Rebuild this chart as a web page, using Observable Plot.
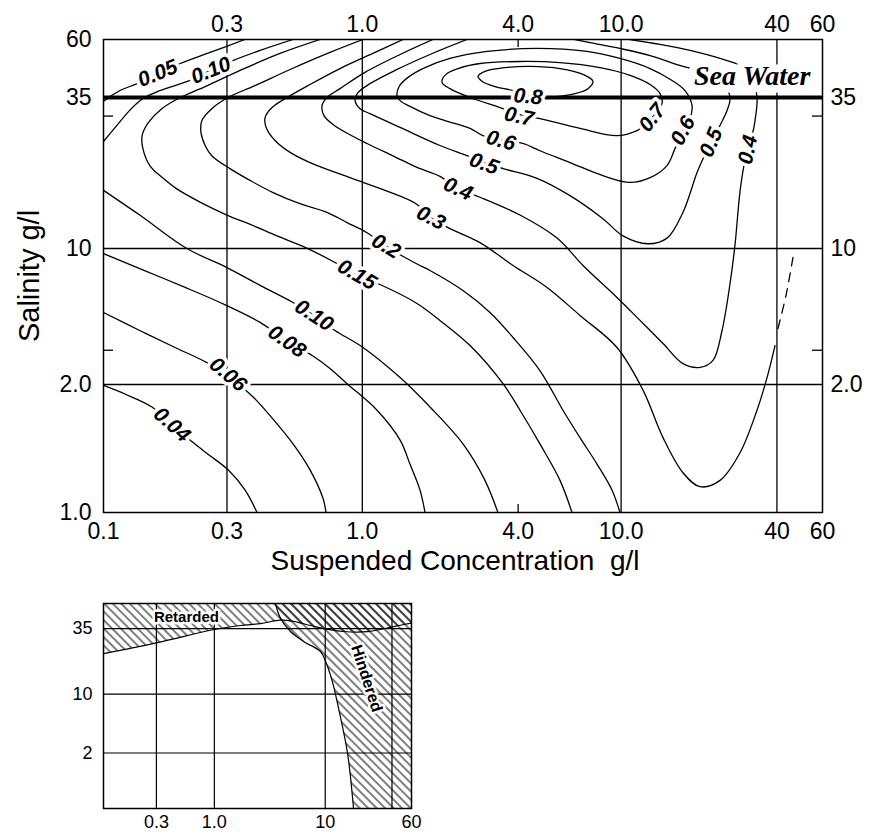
<!DOCTYPE html>
<html><head><meta charset="utf-8">
<script src="https://cdn.jsdelivr.net/npm/d3@7"></script>
<script src="https://cdn.jsdelivr.net/npm/@observablehq/plot@0.6"></script>
<style>body{margin:0;background:#fff;} #chart svg{display:block;}</style>
</head><body><div id="chart"></div>
<script>
// ---------- axes / ticks ----------
const yBreaks = [1, 2, 10, 35, 60];
const xDomain = [0.1, 60];
const xTicksBottom = [0.1, 0.3, 1, 4, 10, 40, 60];
const xTickLabelsBottom = ["0.1", "0.3", "1.0", "4.0", "10.0", "40", "60"];
const xTicksTop = [0.3, 1, 4, 10, 40, 60];
const xTickLabelsTop = ["0.3", "1.0", "4.0", "10.0", "40", "60"];
const yTicksLeft = [1, 2, 10, 35, 60];
const yTickLabelsLeft = ["1.0", "2.0", "10", "35", "60"];
const yTicksRight = [2, 10, 35];
const yTickLabelsRight = ["2.0", "10", "35"];
const xGrid = [0.3, 1, 10, 40];
const yGrid = [2, 10];
const seaWater = [35];
const xMinor = [4];
const yMinor = [3, 30];
const xTitle = "Suspended Concentration\u00a0 g/l";
const yTitle = "Salinity g/l";
const seaLabel = {text: "Sea Water", x: 32.1, y: 42.6};

// ---------- contours (concentration g/l, salinity g/l) ----------
const c004 = [[0.1,1.99],[0.121,1.9],[0.154,1.77],[0.184,1.61],[0.222,1.46],[0.258,1.36],[0.303,1.26],[0.352,1.13],[0.392,1.0]];
const c006 = [[0.1,4.69],[0.138,3.79],[0.189,3.10],[0.251,2.59],[0.303,2.20],[0.375,1.88],[0.44,1.69],[0.54,1.45],[0.628,1.26],[0.705,1.08],[0.724,1.0]];
const c008 = [[0.1,9.42],[0.138,7.89],[0.198,6.46],[0.282,5.28],[0.403,4.17],[0.512,3.33],[0.64,2.82],[0.75,2.42],[0.873,2.02],[1.14,1.74],[1.40,1.48],[1.528,1.30],[1.67,1.13],[1.747,1.0]];
const c010low = [[0.1,16.2],[0.138,13.2],[0.21,10.0],[0.30,7.98],[0.403,6.46],[0.54,5.28],[0.651,4.53],[0.784,3.79],[1.006,3.10],[1.40,2.17],[1.826,1.77],[2.449,1.45],[2.978,1.19],[3.342,1.0]];
const c010up = [[0.1,24.3],[0.111,27.3],[0.126,31.4],[0.142,34.7],[0.165,37.3],[0.216,41.0],[0.26,45.0],[0.316,49.3],[0.403,54.2],[0.54,60]];
const c005 = [[0.1,33.9],[0.106,35.3],[0.118,37.7],[0.135,39.8],[0.162,43.8],[0.198,48.0],[0.258,53.2],[0.352,60]];
const c015 = [[0.687,60],[0.481,52.7],[0.337,45.0],[0.247,38.7],[0.198,35],[0.168,31.9],[0.149,28.4],[0.141,25.5],[0.142,22.9],[0.151,19.9],[0.170,17.9],[0.192,16.4],[0.236,14.7],[0.30,13.2],[0.378,12.1],[0.468,11.1],[0.601,10.1],[0.784,8.47],[0.954,7.26],[1.17,6.53],[1.626,5.22],[1.995,4.27],[2.608,3.17],[3.496,2.02],[4.067,1.74],[4.856,1.45],[5.806,1.19],[6.46,1.0]];
const c02 = [[1.006,60],[0.75,53.2],[0.526,45.4],[0.385,39.1],[0.303,35],[0.262,31.9],[0.240,28.9],[0.238,26.2],[0.247,23.5],[0.262,21.6],[0.308,19.4],[0.368,17.6],[0.452,15.9],[0.574,14.5],[0.73,13.5],[0.873,12.4],[1.043,11.4],[1.235,10.2],[1.462,8.99],[1.67,8.18],[1.826,7.71],[2.449,6.08],[3.114,4.69],[3.823,3.49],[4.856,2.36],[5.96,1.74],[6.935,1.50],[8.07,1.30],[9.218,1.13],[9.902,1.0]];
const c03 = [[1.437,60],[1.12,53.2],[0.82,45.8],[0.628,39.5],[0.512,35],[0.448,32.2],[0.421,29.6],[0.425,27.3],[0.46,24.5],[0.526,22.2],[0.628,20.4],[0.896,18.0],[1.224,16.2],[1.612,14.5],[1.843,12.9],[2.181,11.8],[2.849,10.5],[3.823,8.18],[5.173,6.31],[6.935,4.53],[9.64,3.10],[12.15,1.94],[14.52,1.50],[17.34,1.24],[20.18,1.15],[24.12,1.19],[28.77,1.38],[33.5,1.74],[36.63,2.17],[39.33,3.17]];
const c03dash = [[40.36,3.88],[43.35,5.73],[46.14,8.99]];
const c04 = [[1.875,60],[1.40,52.2],[1.024,44.2],[0.82,38.0],[0.73,35],[0.699,32.7],[0.711,30.1],[0.77,28.0],[0.896,25.7],[1.043,23.9],[1.337,21.4],[1.626,19.6],[1.995,18.2],[2.343,16.4],[2.849,15.3],[4.067,13.2],[5.656,10.9],[7.124,8.18],[9.64,5.60],[11.83,4.27],[14.52,3.25],[17.34,2.56],[20.18,2.45],[22.65,2.66],[24.55,3.79],[26.36,6.61],[27.54,10.3],[28.77,15.9],[29.83,19.9],[30.9,22.9],[32.06,25.5],[32.92,28.9],[33.5,35],[32.06,41.8],[28.77,47.1],[24.12,50.3],[18.46,54.2],[14.14,57.3],[10.83,60]];
const c05 = [[2.539,60],[1.826,52.2],[1.337,45.0],[1.071,39.8],[0.962,36.6],[0.938,34.1],[0.98,31.9],[1.071,30.6],[1.40,27.3],[1.995,23.5],[2.539,21.6],[2.952,20.4],[3.496,19.4],[4.733,17.9],[6.345,15.5],[8.508,12.8],[10.17,11.1],[12.70,10.4],[15.04,10.9],[17.34,13.5],[19.65,18.8],[20.55,20.7],[22.26,24.1],[24.12,27.8],[25.66,31.4],[26.36,35],[24.55,40.3],[21.09,44.2],[17.34,46.7],[12.94,51.7],[9.902,55.2],[7.58,58.3],[6.633,60]];
const c06 = [[1.362,35.6],[1.386,38.7],[1.502,42.2],[1.747,46.2],[2.181,50.3],[3.031,53.7],[4.733,55.2],[7.38,53.7],[9.902,50.3],[12.94,45.8],[15.73,41.0],[17.66,37.3],[18.8,32.7],[18.46,29.4],[17.34,26.6],[16.15,22.9],[15.04,19.9],[12.94,18.0],[10.83,17.3],[8.508,18.3],[6.345,20.4],[4.856,22.5],[4.175,23.9],[3.434,24.7],[2.926,25.5],[2.608,27.1],[2.087,28.9],[1.826,30.1],[1.528,32.5],[1.399,34.1]];
const c07 = [[2.032,40.3],[2.106,43.4],[2.343,45.8],[2.849,48.0],[4.067,48.9],[5.806,48.4],[8.283,46.2],[10.83,43.0],[12.94,39.5],[14.14,36.3],[14.39,33.3],[13.17,29.6],[12.37,27.8],[11.52,26.6],[9.64,25.5],[6.935,27.1],[4.856,29.4],[4.031,30.4],[3.405,32.2],[2.608,35],[2.181,38.0]];
const c08 = [[3.823,37.3],[3.257,38.7],[2.90,40.7],[2.80,42.6],[2.978,44.6],[3.56,46.2],[4.444,46.7],[5.806,45.8],[7.124,43.4],[7.785,40.7],[7.449,38.0],[6.633,36.3],[5.556,35.3],[4.368,35.3]];

// ---------- contour labels ----------
const labelText  = ["0.04","0.06","0.08","0.10","0.15","0.2","0.3","0.4","0.5","0.6","0.7","0.8","0.7","0.6","0.5","0.4","0.05","0.10"];
const labelX     = [0.184,0.303,0.512,0.651,0.954,1.235,1.843,2.343,2.952,3.434,4.031,4.368,13.17,17.34,22.26,30.9,0.162,0.26];
const labelY     = [1.61,2.25,3.33,4.53,7.35,10.2,12.9,16.4,20.2,24.5,29.9,35.3,29.6,26.6,24.1,22.7,43.8,45.0];
const labelAngle = [42,40,35,33,30,30,27,24,20,16,12,5,-52,-62,-68,-78,-22,-22];

// ---------- inset ----------
const insetXTicks = [0.3, 1, 10, 60];
const insetXLabels = ["0.3", "1.0", "10", "60"];
const insetYTicks = [2, 10, 35];
const insetYLabels = ["2", "10", "35"];
const insetYGrid = [2, 10, 35];
const retardedEdge = [[0.1,21.7],[0.307,26.8],[1.0,34.4],[1.72,37.4],[2.61,39.0],[3.95,41.9],[5.18,40.8],[7.36,37.4],[9.64,35.1],[14.6,33.1],[24.0,33.0],[41.3,36.5],[60,39.5]];
const hinderedEdge = [[3.56,60],[3.95,43.6],[4.86,33.1],[6.37,27.4],[9.06,22.6],[10.0,19.0],[11.6,12.7],[13.2,6.74],[15.9,1.99],[18.0,1.0]];
const retardedLabel = {text: "Retarded", x: 0.56, y: 44.4};
const hinderedLabel = {text: "Hindered", x: 23.6, y: 13.5};

// ---------- build ----------
const xy = {x: d => d[0], y: d => d[1]};
const ln = {stroke: "black", strokeWidth: 1.3, clip: true};
const openC = [c004, c006, c008, c010low, c010up, c005, c015, c02, c03, c04, c05];
const closedC = [c06, c07, c08];
const labels = labelText.map((t, i) => ({t, x: labelX[i], y: labelY[i], a: labelAngle[i]}));
const fmt = (ticks, labs) => d => labs[ticks.indexOf(d)] ?? "";
const font = "Liberation Sans, Arial, Helvetica, sans-serif";
const TF = 23;
const tx = (ticks, labs, o) => Plot.text(ticks, {x: d => d, text: fmt(ticks, labs), fill: "black", ...o});
const ty = (ticks, labs, o) => Plot.text(ticks, {y: d => d, text: fmt(ticks, labs), fill: "black", ...o});

const main = Plot.plot({
  width: 878, height: 580,
  marginLeft: 103, marginRight: 56, marginTop: 39, marginBottom: 68,
  x: {type: "log", domain: xDomain, axis: null},
  y: {type: "log", domain: yBreaks, range: [512, 384, 248, 97, 39], axis: null},
  style: {fontFamily: font, background: "white", overflow: "visible"},
  marks: [
    Plot.ruleX(xGrid, {stroke: "black", strokeWidth: 1.3}),
    Plot.ruleY(yGrid, {stroke: "black", strokeWidth: 1.3}),
    ...openC.map(c => Plot.line(c, {...xy, ...ln, curve: "catmull-rom"})),
    ...closedC.map(c => Plot.line(c, {...xy, ...ln, curve: "catmull-rom-closed"})),
    Plot.line(c03dash, {...xy, ...ln, curve: "catmull-rom", strokeDasharray: "9,7"}),
    Plot.text([seaLabel], {x: "x", y: "y", text: "text", fontFamily: "Liberation Serif, DejaVu Serif, serif",
      fontWeight: "bold", fontStyle: "italic", fontSize: 28, fill: "black", stroke: "white", strokeWidth: 15, paintOrder: "stroke"}),
    Plot.ruleY(seaWater, {stroke: "black", strokeWidth: 4}),
    Plot.text(labels, {x: "x", y: "y", text: "t", rotate: "a", fontSize: 21, fontWeight: "bold", fontStyle: "italic",
      fill: "black", stroke: "white", strokeWidth: 7, paintOrder: "stroke"}),
    Plot.frame({stroke: "black", strokeWidth: 1.5}),
    tx(xTicksBottom, xTickLabelsBottom, {frameAnchor: "bottom", lineAnchor: "top", dy: 10, fontSize: TF}),
    tx(xTicksTop, xTickLabelsTop, {frameAnchor: "top", lineAnchor: "bottom", dy: -8, fontSize: TF}),
    ty(yTicksLeft, yTickLabelsLeft, {frameAnchor: "left", textAnchor: "end", dx: -12, fontSize: TF}),
    ty(yTicksRight, yTickLabelsRight, {frameAnchor: "right", textAnchor: "start", dx: 8, fontSize: TF}),
    Plot.axisX({anchor: "top", ticks: xMinor, tickSize: 7, dy: 7, tickFormat: () => "", label: null, strokeWidth: 1.3}),
    Plot.axisX({anchor: "bottom", ticks: xMinor, tickSize: 8, dy: -8, tickFormat: () => "", label: null, strokeWidth: 1.3}),
    Plot.axisY({anchor: "left", ticks: yMinor, tickSize: 10, dx: 10, tickFormat: () => "", label: null, strokeWidth: 1.3}),
    Plot.axisY({anchor: "right", ticks: yMinor, tickSize: 11, dx: -11, tickFormat: () => "", label: null, strokeWidth: 1.3}),
    Plot.text([xTitle], {frameAnchor: "bottom", dy: 57, dx: -8, lineAnchor: "bottom", textAnchor: "middle", fontSize: 28, fill: "black"}),
    Plot.text([yTitle], {frameAnchor: "left", dx: -74, rotate: -90, textAnchor: "middle", lineAnchor: "middle", fontSize: 29, fill: "black"})
  ]
});

const HATCH = "#010203";
const retardedFill = [[0.1, 60], ...retardedEdge, [60, 60]];
const hinderedFill = [...hinderedEdge, [60, 1], [60, 60]];
const inset = Plot.plot({
  width: 878, height: 254,
  marginLeft: 103, marginRight: 467, marginTop: 23, marginBottom: 26,
  x: {type: "log", domain: xDomain, axis: null},
  y: {type: "log", domain: yBreaks, range: [228, 172.5, 113.6, 48.1, 23], axis: null},
  style: {fontFamily: font, background: "white", overflow: "visible"},
  marks: [
    Plot.line(retardedFill, {...xy, fill: HATCH, stroke: null, clip: true}),
    Plot.line(hinderedFill, {...xy, fill: HATCH, stroke: null, clip: true}),
    Plot.ruleX(xGrid, {stroke: "black", strokeWidth: 1.2}),
    Plot.ruleY(insetYGrid, {stroke: "black", strokeWidth: 1.2}),
    Plot.line(retardedEdge, {...xy, stroke: "black", strokeWidth: 1.2, curve: "catmull-rom", clip: true}),
    Plot.line(hinderedEdge, {...xy, stroke: "black", strokeWidth: 1.2, curve: "catmull-rom", clip: true}),
    Plot.text([retardedLabel], {x: "x", y: "y", text: "text", fontSize: 15, fontWeight: "bold", fill: "black", stroke: "white", strokeWidth: 5, paintOrder: "stroke"}),
    Plot.text([hinderedLabel], {x: "x", y: "y", text: "text", rotate: 72, fontSize: 16, fontWeight: "bold", fill: "black", stroke: "white", strokeWidth: 5, paintOrder: "stroke"}),
    Plot.frame({stroke: "black", strokeWidth: 1.5}),
    tx(insetXTicks, insetXLabels, {frameAnchor: "bottom", lineAnchor: "top", dy: 7, fontSize: 18}),
    ty(insetYTicks, insetYLabels, {frameAnchor: "left", textAnchor: "end", dx: -11, fontSize: 18})
  ]
});

// hatch pattern for the inset regions
const s = d3.select(inset);
const pat = s.insert("defs", ":first-child").append("pattern")
  .attr("id", "hatch").attr("patternUnits", "userSpaceOnUse")
  .attr("width", 6).attr("height", 6).attr("patternTransform", "rotate(-45)");
pat.append("line").attr("x1", 3).attr("y1", -1).attr("x2", 3).attr("y2", 7).attr("stroke", "black").attr("stroke-width", 1);
s.selectAll(`[fill="${HATCH}"]`).attr("fill", "url(#hatch)");

document.getElementById("chart").append(main, inset);
</script>
</body></html>
